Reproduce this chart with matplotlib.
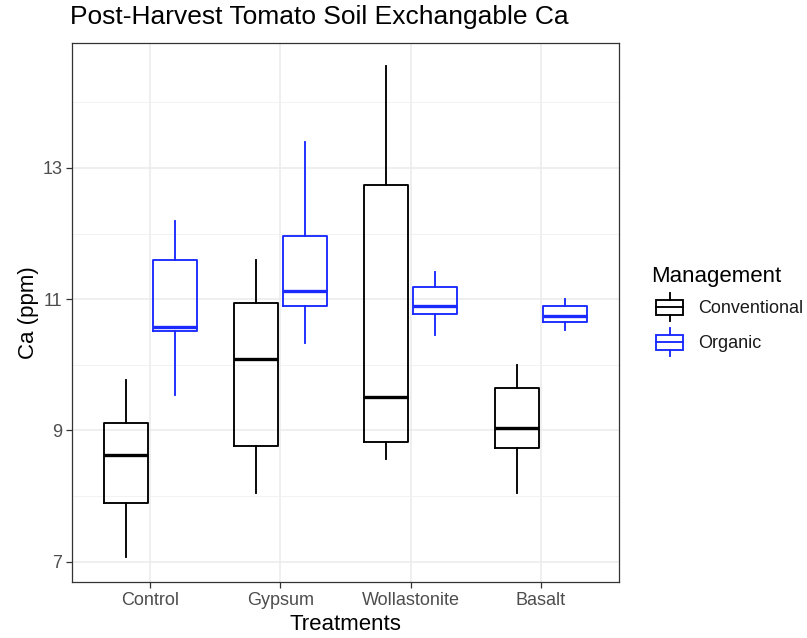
import matplotlib
matplotlib.use('Agg')
import matplotlib.pyplot as plt
import numpy as np
from matplotlib.legend_handler import HandlerBase
from matplotlib.lines import Line2D
from matplotlib.patches import Rectangle

plt.rcParams['font.family'] = ['Liberation Sans', 'DejaVu Sans']

# ===== DANE =====
treatments = ['Control', 'Gypsum', 'Wollastonite', 'Basalt']
groups = ['Conventional', 'Organic']
colors = {'Conventional': 'black', 'Organic': '#1a2aff'}

# whisker low, Q1, median, Q3, whisker high
conv_low = [7.07, 8.04, 8.57, 8.04]
conv_q1 = [7.89, 8.76, 8.82, 8.73]
conv_med = [8.63, 10.09, 9.51, 9.03]
conv_q3 = [9.11, 10.94, 12.74, 9.65]
conv_high = [9.77, 11.60, 14.55, 10.00]

org_low = [9.54, 10.34, 10.45, 10.53]
org_q1 = [10.52, 10.90, 10.77, 10.65]
org_med = [10.57, 11.12, 10.90, 10.75]
org_q3 = [11.60, 11.97, 11.18, 10.89]
org_high = [12.19, 13.39, 11.42, 11.00]

series = {
    'Conventional': (conv_low, conv_q1, conv_med, conv_q3, conv_high),
    'Organic': (org_low, org_q1, org_med, org_q3, org_high),
}

LW = 1.35

# ===== WYKRES =====
fig = plt.figure(figsize=(8.07, 6.38), dpi=100)
ax = fig.add_axes([0.0892, 0.0878, 0.678, 0.8453])

x = np.arange(1, len(treatments) + 1)
offsets = {'Conventional': -0.1875, 'Organic': 0.1875}
box_w = 0.3375

for g in groups:
    lo, q1, med, q3, hi = series[g]
    stats = [dict(whislo=lo[i], q1=q1[i], med=med[i], q3=q3[i], whishi=hi[i])
             for i in range(len(treatments))]
    c = colors[g]
    ax.bxp(stats, positions=x + offsets[g], widths=box_w, showfliers=False,
           showcaps=False, patch_artist=False, manage_ticks=False,
           boxprops=dict(color=c, lw=LW),
           whiskerprops=dict(color=c, lw=LW),
           medianprops=dict(color=c, lw=2.4, solid_capstyle='butt'))

# osie i siatka w stylu theme_bw
ax.set_xlim(0.4, 4.6)
ax.set_ylim(6.69, 14.91)
ax.set_xticks(x)
ax.set_xticklabels(treatments)
ax.set_yticks([7, 9, 11, 13])
ax.set_yticks([8, 10, 12, 14], minor=True)
ax.grid(True, which='major', color='#EBEBEB', lw=1.1)
ax.grid(True, which='minor', axis='y', color='#F0F0F0', lw=0.6)
ax.set_axisbelow(True)
for s in ax.spines.values():
    s.set_color('#333333')
    s.set_linewidth(0.9)
ax.tick_params(which='major', color='#333333', length=4, width=0.9,
               labelsize=13, labelcolor='#4D4D4D', pad=3)
ax.tick_params(which='minor', length=0)

ax.set_xlabel('Treatments', fontsize=16, labelpad=4)
ax.set_ylabel('Ca (ppm)', fontsize=16, labelpad=2)
fig.text(0.0867, 0.973, 'Post-Harvest Tomato Soil Exchangable Ca',
         fontsize=19, ha='left', va='center')


# ===== LEGENDA (ikonki jak boxplot w ggplot) =====
class BoxHandler(HandlerBase):
    def create_artists(self, legend, orig_handle, xdescent, ydescent,
                       width, height, fontsize, trans):
        c = orig_handle.get_color()
        x0, y0 = -xdescent + 3, -ydescent
        w = width - 3
        cx = x0 + w / 2
        arts = [
            Line2D([cx, cx], [y0 + 0.04 * height, y0 + 0.25 * height], color=c, lw=LW),
            Line2D([cx, cx], [y0 + 0.75 * height, y0 + 0.96 * height], color=c, lw=LW),
            Rectangle((x0, y0 + 0.25 * height), w, 0.5 * height,
                      fill=False, edgecolor=c, lw=LW),
            Line2D([x0, x0 + w], [y0 + 0.5 * height] * 2, color=c, lw=LW),
        ]
        for a in arts:
            a.set_transform(trans)
        return arts


handles = [Line2D([], [], color=colors[g]) for g in groups]
leg = fig.legend(handles, groups, loc='upper left', bbox_to_anchor=(0.8073, 0.583),
                 frameon=False, fontsize=13, title='Management', title_fontsize=16,
                 handler_map={Line2D: BoxHandler()}, handlelength=1.77,
                 handleheight=2.18, handletextpad=0.83, labelspacing=0.28,
                 borderpad=0, borderaxespad=0)
leg._legend_box.align = 'left'
for t in leg.get_texts():
    t.set_color('#1a1a1a')

fig.savefig('out.png', dpi=100)
